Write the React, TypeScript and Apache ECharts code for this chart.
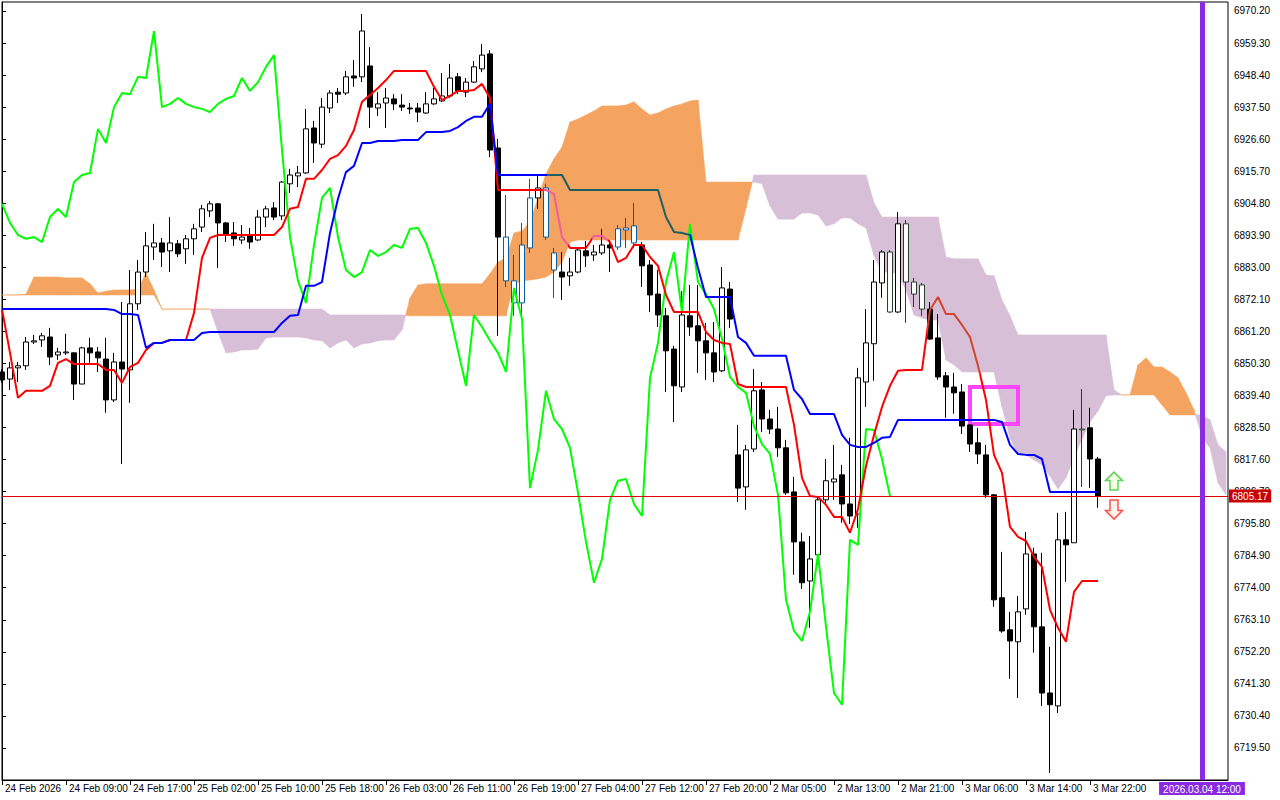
import React, { useEffect, useRef } from "react";
import * as echarts from "echarts";

// ---------- data ----------
const timeLabels = [
  "24 Feb 2026", "24 Feb 09:00", "24 Feb 17:00", "25 Feb 02:00", "25 Feb 10:00", "25 Feb 18:00",
  "26 Feb 03:00", "26 Feb 11:00", "26 Feb 19:00", "27 Feb 04:00", "27 Feb 12:00", "27 Feb 20:00",
  "2 Mar 05:00", "2 Mar 13:00", "2 Mar 21:00", "3 Mar 06:00", "3 Mar 14:00", "3 Mar 22:00",
];
const barsPerLabel = 8;

const yTickLabels = [
  6970.2, 6959.3, 6948.4, 6937.5, 6926.6, 6915.7, 6904.8, 6893.9, 6883.0, 6872.1, 6861.2, 6850.3,
  6839.4, 6828.5, 6817.6, 6806.7, 6795.8, 6784.9, 6774.0, 6763.1, 6752.2, 6741.3, 6730.4, 6719.5,
];
const yMin = 6708.6;
const yMax = 6973.26;

// [open, close, low, high]
const ohlc: number[][] = [
  [6847.4, 6844.7, 6843.7, 6848.4], [6845.0, 6848.8, 6841.3, 6850.8], [6848.8, 6849.5, 6844.0, 6850.8],
  [6849.5, 6857.6, 6848.1, 6859.3], [6857.6, 6858.0, 6856.9, 6860.0], [6858.3, 6859.7, 6855.9, 6860.7],
  [6859.3, 6852.5, 6849.8, 6862.4], [6853.2, 6854.2, 6851.5, 6855.6], [6853.9, 6854.2, 6853.2, 6860.4],
  [6853.9, 6843.3, 6837.9, 6854.0], [6843.3, 6855.6, 6843.3, 6856.0], [6855.6, 6853.9, 6850.5, 6859.0],
  [6854.2, 6852.2, 6847.4, 6855.9], [6851.8, 6837.9, 6833.5, 6859.0], [6837.9, 6850.8, 6837.2, 6853.9],
  [6850.8, 6848.4, 6816.1, 6871.2], [6848.1, 6870.6, 6836.9, 6882.1], [6870.6, 6881.4, 6868.5, 6885.5],
  [6881.4, 6890.3, 6879.7, 6895.0], [6889.9, 6891.3, 6885.5, 6897.8], [6891.3, 6888.2, 6883.1, 6893.0],
  [6888.6, 6891.3, 6881.4, 6900.1], [6891.0, 6887.6, 6886.5, 6892.3], [6889.3, 6892.7, 6884.2, 6894.0],
  [6892.7, 6896.1, 6887.2, 6897.8], [6896.7, 6902.9, 6895.0, 6904.2], [6902.2, 6904.6, 6900.1, 6905.6],
  [6904.6, 6898.1, 6882.8, 6904.9], [6898.1, 6894.0, 6891.6, 6898.4], [6894.7, 6892.7, 6890.3, 6898.4],
  [6892.3, 6893.3, 6891.0, 6897.4], [6893.7, 6891.6, 6889.3, 6896.4], [6892.3, 6900.1, 6892.0, 6902.5],
  [6900.1, 6902.9, 6896.7, 6903.9], [6903.2, 6900.1, 6899.1, 6905.2], [6900.5, 6912.0, 6899.1, 6912.4],
  [6911.4, 6914.4, 6908.3, 6916.5], [6914.1, 6915.1, 6910.3, 6917.5], [6915.1, 6930.1, 6914.8, 6936.9],
  [6930.4, 6925.3, 6918.5, 6932.8], [6924.9, 6937.5, 6923.6, 6940.6], [6937.2, 6942.3, 6935.5, 6943.3],
  [6942.6, 6941.9, 6938.9, 6944.0], [6942.3, 6947.8, 6941.6, 6949.8], [6948.1, 6947.4, 6944.4, 6953.5],
  [6947.8, 6963.4, 6946.0, 6969.2], [6951.5, 6937.5, 6930.4, 6957.9], [6937.2, 6938.6, 6934.5, 6942.6],
  [6938.9, 6940.6, 6930.4, 6944.0], [6940.3, 6938.6, 6936.5, 6941.9], [6938.2, 6937.5, 6936.2, 6941.9],
  [6937.2, 6936.9, 6935.2, 6938.9], [6937.2, 6935.8, 6932.4, 6938.9], [6935.5, 6938.6, 6935.2, 6942.6],
  [6938.6, 6940.3, 6938.3, 6944.0], [6939.6, 6941.3, 6939.3, 6949.1], [6941.3, 6947.4, 6940.6, 6952.2],
  [6947.8, 6943.0, 6941.9, 6949.1], [6942.6, 6946.0, 6940.9, 6947.4], [6946.0, 6951.2, 6945.7, 6953.2],
  [6950.5, 6955.2, 6949.4, 6959.0], [6955.6, 6922.9, 6920.5, 6956.9], [6923.6, 6893.3, 6859.7, 6926.7],
  [6893.3, 6878.4, 6876.3, 6907.6], [6878.4, 6870.9, 6866.5, 6887.2], [6870.9, 6890.6, 6866.5, 6898.1],
  [6889.6, 6906.6, 6887.9, 6913.1], [6906.6, 6910.0, 6902.9, 6914.1], [6910.0, 6893.3, 6892.3, 6911.4],
  [6887.9, 6882.1, 6872.6, 6889.6], [6881.4, 6879.7, 6871.9, 6888.2], [6880.1, 6881.4, 6876.7, 6886.2],
  [6881.4, 6888.9, 6881.0, 6889.5], [6888.6, 6886.9, 6883.1, 6892.0], [6887.2, 6888.2, 6885.2, 6890.6],
  [6887.9, 6890.6, 6887.2, 6896.1], [6890.6, 6889.6, 6881.4, 6892.3], [6889.9, 6896.1, 6888.9, 6897.4],
  [6895.7, 6896.4, 6889.6, 6899.8], [6897.1, 6891.3, 6889.6, 6904.9], [6890.6, 6883.5, 6876.3, 6891.6],
  [6883.8, 6873.6, 6867.8, 6885.5], [6873.9, 6866.8, 6862.7, 6882.1], [6866.5, 6854.6, 6840.6, 6869.2],
  [6855.2, 6842.7, 6830.4, 6856.3], [6842.3, 6866.8, 6840.6, 6874.9], [6866.5, 6862.7, 6859.7, 6877.0],
  [6863.1, 6858.0, 6847.1, 6877.0], [6858.0, 6853.9, 6844.7, 6864.1], [6853.9, 6847.4, 6844.0, 6864.4],
  [6847.8, 6876.0, 6847.4, 6883.1], [6875.6, 6865.4, 6862.4, 6878.0], [6819.2, 6807.9, 6803.2, 6829.4],
  [6808.3, 6820.9, 6800.5, 6822.6], [6821.2, 6841.0, 6820.2, 6848.4], [6841.3, 6831.4, 6827.0, 6844.0],
  [6831.4, 6828.0, 6826.3, 6834.5], [6828.0, 6821.6, 6818.5, 6835.5], [6821.6, 6806.3, 6805.6, 6824.3],
  [6806.6, 6789.6, 6778.4, 6811.7], [6789.6, 6775.7, 6773.6, 6792.7], [6776.3, 6783.8, 6760.4, 6791.6],
  [6785.2, 6803.9, 6781.8, 6804.6], [6803.9, 6810.4, 6802.5, 6817.8], [6810.0, 6811.0, 6803.9, 6822.6],
  [6812.4, 6802.5, 6796.1, 6815.8], [6802.5, 6798.4, 6795.7, 6825.0], [6799.1, 6845.4, 6794.4, 6848.8],
  [6844.0, 6857.3, 6835.5, 6868.8], [6857.0, 6878.0, 6844.4, 6885.5], [6877.7, 6888.2, 6872.6, 6888.9],
  [6888.2, 6867.8, 6867.5, 6888.9], [6867.8, 6897.8, 6867.5, 6901.8], [6897.8, 6878.0, 6864.1, 6899.1],
  [6878.0, 6873.9, 6869.5, 6879.4], [6877.0, 6868.8, 6866.5, 6877.7], [6868.8, 6858.6, 6858.3, 6871.2],
  [6859.0, 6845.7, 6844.7, 6867.1], [6846.1, 6842.3, 6831.8, 6847.4], [6842.3, 6840.3, 6833.2, 6847.1],
  [6840.6, 6829.0, 6826.3, 6843.3], [6829.4, 6822.9, 6820.2, 6829.5], [6823.3, 6819.5, 6816.1, 6828.4],
  [6819.2, 6805.6, 6804.6, 6822.6], [6805.6, 6769.9, 6767.5, 6805.8], [6770.6, 6759.3, 6758.7, 6786.2],
  [6759.7, 6755.9, 6743.0, 6765.8], [6755.6, 6765.8, 6736.5, 6771.2], [6766.8, 6785.5, 6764.8, 6793.0],
  [6785.5, 6760.7, 6751.9, 6787.6], [6760.7, 6738.2, 6733.8, 6785.9], [6738.2, 6734.2, 6711.0, 6753.9],
  [6733.8, 6790.3, 6731.4, 6799.5], [6790.3, 6788.6, 6776.0, 6799.8], [6789.3, 6828.0, 6789.3, 6834.5],
  [6828.0, 6827.7, 6808.3, 6841.6], [6828.4, 6817.8, 6808.0, 6835.2], [6817.8, 6805.17, 6801.2, 6818.5],
];

const tenkan = [
  6868.8, 6853.9, 6838.6, 6841.0, 6841.0, 6841.0, 6842.7, 6850.5, 6851.8, 6850.1,
  6850.1, 6850.1, 6850.1, 6848.1, 6848.1, 6843.7, 6849.1, 6850.5, 6854.9, 6857.3,
  6857.3, 6858.3, 6858.3, 6858.3, 6867.5, 6886.2, 6893.0, 6894.0, 6894.0, 6894.0,
  6894.0, 6894.0, 6894.0, 6894.0, 6894.0, 6896.7, 6902.9, 6903.5, 6913.1, 6913.1,
  6916.1, 6919.9, 6921.2, 6924.3, 6929.7, 6939.3, 6941.6, 6944.0, 6946.7, 6949.8,
  6949.8, 6949.8, 6949.8, 6949.8, 6944.4, 6939.9, 6941.3, 6943.0, 6943.0, 6943.3,
  6945.4, 6940.6, 6909.3, 6909.3, 6909.3, 6909.3, 6909.3, 6909.3, 6909.3, 6908.0,
  6893.3, 6889.6, 6889.6, 6889.6, 6893.7, 6893.7, 6891.6, 6884.8, 6886.2, 6890.6,
  6890.6, 6886.5, 6883.5, 6873.6, 6867.8, 6867.8, 6867.8, 6867.8, 6861.0, 6858.3,
  6857.3, 6856.9, 6843.3, 6842.3, 6842.3, 6842.3, 6842.3, 6842.3, 6842.3, 6829.4,
  6811.4, 6805.2, 6804.9, 6802.2, 6798.1, 6798.1, 6792.7, 6800.8, 6815.4, 6826.0,
  6835.5, 6842.7, 6847.8, 6848.1, 6848.1, 6848.1, 6868.5, 6872.9, 6867.1, 6867.1,
  6863.4, 6859.3, 6849.5, 6837.9, 6819.2, 6813.1, 6794.7, 6791.3, 6789.9, 6784.5,
  6781.1, 6766.5, 6760.4, 6755.6, 6772.6, 6776.3, 6776.3, 6776.3,
];

const kijun = [
  6868.8, 6868.8, 6868.8, 6868.8, 6868.8, 6868.8, 6868.8, 6868.8, 6868.8, 6868.8,
  6868.8, 6868.8, 6868.8, 6868.8, 6868.5, 6867.1, 6867.1, 6866.8, 6855.6, 6857.3,
  6857.3, 6858.3, 6858.3, 6858.3, 6858.3, 6860.7, 6861.0, 6861.0, 6861.0, 6861.0,
  6861.0, 6861.0, 6861.0, 6861.0, 6861.0, 6864.1, 6866.5, 6866.8, 6876.7, 6876.7,
  6878.0, 6894.7, 6906.3, 6915.4, 6917.5, 6925.3, 6925.3, 6926.0, 6926.0, 6926.0,
  6926.3, 6926.3, 6926.3, 6929.0, 6929.0, 6929.0, 6929.4, 6930.7, 6932.8, 6934.2,
  6934.2, 6938.6, 6914.4, 6914.4, 6914.4, 6914.4, 6914.4, 6914.4, 6914.4, 6914.4,
  6914.4, 6909.3, 6909.3, 6909.3, 6909.3, 6909.3, 6909.3, 6909.3, 6909.3, 6909.3,
  6909.3, 6909.3, 6909.3, 6900.1, 6895.0, 6894.7, 6894.0, 6882.8, 6872.9, 6872.9,
  6872.9, 6872.9, 6859.3, 6857.3, 6852.9, 6852.9, 6852.9, 6852.9, 6852.9, 6841.3,
  6838.2, 6833.1, 6833.1, 6833.1, 6833.1, 6826.0, 6822.6, 6821.9, 6821.9, 6823.3,
  6825.0, 6825.3, 6831.1, 6831.1, 6831.1, 6831.1, 6831.1, 6831.1, 6831.1, 6831.1,
  6831.1, 6831.1, 6831.1, 6831.1, 6831.1, 6830.4, 6822.6, 6819.5, 6819.2, 6819.2,
  6817.8, 6806.6, 6806.6, 6806.6, 6806.6, 6806.6, 6806.6, 6806.6,
];

const senkouA = [
  6873.6, 6873.6, 6873.6, 6873.9, 6879.7, 6879.7, 6879.7, 6879.7, 6879.4, 6879.4,
  6879.4, 6877.4, 6874.3, 6874.9, 6875.3, 6875.3, 6875.3, 6875.6, 6881.1, 6875.3,
  6868.8, 6868.8, 6868.8, 6868.8, 6868.8, 6868.8, 6868.8, 6861.0, 6853.9, 6854.2,
  6854.9, 6854.9, 6855.2, 6859.0, 6859.3, 6859.3, 6859.3, 6859.3, 6859.0, 6858.3,
  6858.0, 6855.6, 6857.3, 6858.3, 6855.6, 6856.9, 6857.3, 6858.0, 6858.3, 6858.3,
  6861.7, 6872.6, 6877.0, 6877.4, 6877.4, 6877.4, 6877.4, 6877.4, 6877.4, 6877.4,
  6877.4, 6880.8, 6884.8, 6886.2, 6894.7, 6895.4, 6898.4, 6906.6, 6914.8, 6919.9,
  6923.9, 6932.4, 6933.5, 6934.8, 6936.2, 6937.9, 6937.9, 6937.9, 6938.2, 6939.3,
  6936.9, 6934.8, 6935.5, 6936.9, 6937.9, 6938.6, 6939.6, 6939.9, 6912.0, 6912.0,
  6912.0, 6912.0, 6912.0, 6912.0, 6912.0, 6911.4, 6903.9, 6899.4, 6899.4, 6899.4,
  6901.5, 6901.5, 6900.8, 6897.1, 6897.8, 6899.8, 6899.8, 6897.8, 6896.4, 6886.9,
  6881.4, 6881.4, 6880.8, 6875.3, 6866.8, 6865.8, 6865.1, 6865.1, 6851.5, 6849.8,
  6847.4, 6847.4, 6847.4, 6847.4, 6847.4, 6835.5, 6825.0, 6819.2, 6819.2, 6817.5,
  6815.8, 6812.0, 6807.6, 6811.4, 6818.5, 6824.6, 6830.4, 6834.1, 6839.3, 6839.6,
  6839.6, 6839.6, 6849.8, 6852.2, 6849.1, 6849.1, 6847.4, 6845.4, 6840.3, 6834.5,
  6825.3, 6821.6, 6809.7, 6805.6,
];

const senkouB = [
  6873.6, 6873.6, 6873.6, 6873.6, 6873.6, 6873.6, 6873.6, 6873.6, 6873.6, 6873.6,
  6873.6, 6873.6, 6873.6, 6873.6, 6873.6, 6873.6, 6873.6, 6873.6, 6873.6, 6873.6,
  6868.8, 6868.8, 6868.8, 6868.8, 6868.8, 6868.8, 6868.8, 6868.8, 6868.8, 6868.8,
  6868.8, 6868.8, 6868.8, 6868.8, 6868.8, 6868.8, 6868.8, 6868.8, 6868.8, 6868.8,
  6868.8, 6866.8, 6866.8, 6866.8, 6866.8, 6866.8, 6866.8, 6866.8, 6866.8, 6866.8,
  6866.8, 6866.5, 6866.5, 6866.5, 6866.5, 6866.5, 6866.5, 6866.5, 6866.5, 6866.5,
  6866.5, 6866.5, 6866.5, 6866.5, 6877.4, 6878.4, 6878.7, 6879.1, 6879.7, 6881.4,
  6884.8, 6891.6, 6892.3, 6892.3, 6892.3, 6892.3, 6892.3, 6892.3, 6892.3, 6892.3,
  6892.3, 6892.3, 6892.3, 6892.3, 6892.3, 6892.3, 6892.3, 6892.3, 6892.3, 6892.3,
  6892.3, 6892.3, 6892.3, 6903.2, 6914.4, 6914.4, 6914.4, 6914.4, 6914.4, 6914.4,
  6914.4, 6914.4, 6914.4, 6914.4, 6914.4, 6914.4, 6914.4, 6914.4, 6914.4, 6904.9,
  6900.1, 6900.1, 6900.1, 6900.1, 6900.1, 6900.1, 6900.1, 6900.1, 6886.5, 6885.9,
  6885.9, 6885.9, 6885.9, 6880.4, 6880.1, 6871.9, 6866.5, 6860.0, 6860.0, 6860.0,
  6860.0, 6860.0, 6860.0, 6860.0, 6860.0, 6860.0, 6860.0, 6860.0, 6860.0, 6841.3,
  6839.6, 6839.6, 6839.6, 6839.6, 6839.6, 6836.2, 6832.8, 6832.8, 6832.8, 6832.8,
  6832.8, 6831.1, 6822.6, 6820.2,
];

const chikouShift = 26;
const lastPrice = 6805.17;
const eventBar = 150;
const eventLabel = "2026.03.04 12:00";
const boxCorners = [121, 6842.3, 127, 6829.7];
const arrowBar = 139;
const orangeCloudBars = [63, 64, 65, 66, 68, 69, 77, 78, 79];
const purpleCloudBars = [111, 113, 114, 115, 135];
const xMax = 153.25;

const FONT = '"Liberation Sans", Arial, sans-serif';
const BULL_CLOUD = "#f4a460";
const BEAR_CLOUD = "#d8bfd8";

export default function App() {
  const ref = useRef<HTMLDivElement>(null);

  useEffect(() => {
    const chart = echarts.init(ref.current as HTMLDivElement, null, { renderer: "svg" });

    const blue = "#0b5b9f";
    const dkgreen = "#27402a";
    const candleData = ohlc.map((d, i) => {
      const item: any = { value: [i, d[0], d[1], d[2], d[3]] };
      if (orangeCloudBars.includes(i)) {
        item.itemStyle = { color: "#ffffff", color0: blue, borderColor: blue, borderColor0: blue, borderColorDoji: blue };
      } else if (purpleCloudBars.includes(i)) {
        item.itemStyle = { color: "#ffffff", color0: dkgreen, borderColor: dkgreen, borderColor0: dkgreen, borderColorDoji: dkgreen };
      }
      return item;
    });

    const closes = ohlc.map((d) => d[1]);
    const chikou = closes.slice(chikouShift).map((c, j) => [j, c]);

    // cloud segments: [j, A_j, B_j, A_j+1, B_j+1]
    const cloudSegs = senkouA.slice(0, -1).map((a, j) => [j, a, senkouB[j], senkouA[j + 1], senkouB[j + 1]]);

    const labelTicks = timeLabels.map((_, i) => i * barsPerLabel);

    const option: any = {
      animation: false,
      backgroundColor: "#ffffff",
      textStyle: { fontFamily: FONT },
      grid: {
        left: 2, right: 52, top: 2, bottom: 20,
        show: true, borderColor: "#000", borderWidth: 1,
      },
      xAxis: {
        type: "value",
        min: 0,
        max: xMax,
        axisLine: { show: true, lineStyle: { color: "#000", width: 1 } },
        axisTick: { show: true, customValues: labelTicks, length: 5, lineStyle: { color: "#000" } },
        axisLabel: {
          customValues: labelTicks,
          formatter: (v: number) => timeLabels[Math.round(v / barsPerLabel)] ?? "",
          align: "left",
          padding: [0, 0, 0, 3],
          margin: 3,
          color: "#000",
          fontSize: 10,
          fontFamily: FONT,
        },
        splitLine: { show: false },
      },
      yAxis: {
        type: "value",
        position: "right",
        min: yMin,
        max: yMax,
        axisLine: { show: true, lineStyle: { color: "#000", width: 1 } },
        axisTick: { show: true, customValues: yTickLabels, length: 4, lineStyle: { color: "#000" } },
        axisLabel: {
          customValues: yTickLabels,
          formatter: (v: number) => v.toFixed(2),
          margin: 6,
          color: "#000",
          fontSize: 10,
          fontFamily: FONT,
        },
        splitLine: { show: false },
      },
      visualMap: [
        {
          type: "piecewise", show: false, seriesIndex: 3, dimension: 0,
          pieces: [
            { lt: 67.6, color: "#ff0000" },
            { gte: 67.6, lt: 70.8, color: "#ee5fa0" },
            { gte: 70.8, lt: 73.7, color: "#ff0000" },
            { gte: 73.7, lt: 75.8, color: "#ee5fa0" },
            { gte: 75.8, lt: 115.6, color: "#ff0000" },
            { gte: 115.6, lt: 122.3, color: "#d2452d" },
            { gte: 122.3, color: "#ff0000" },
          ],
        },
        {
          type: "piecewise", show: false, seriesIndex: 4, dimension: 0,
          pieces: [
            { lt: 68.1, color: "#0000ff" },
            { gte: 68.1, lt: 86, color: "#1f5f62" },
            { gte: 86, color: "#0000ff" },
          ],
        },
      ],
      series: [
        {
          name: "cloud", type: "custom", silent: true, clip: true,
          data: cloudSegs,
          encode: { x: 0, y: [1, 2, 3, 4] },
          renderItem: (params: any, api: any) => {
            const j = api.value(0);
            const a0 = api.value(1), b0 = api.value(2), a1 = api.value(3), b1 = api.value(4);
            const pA0 = api.coord([j, a0]);
            const pB0 = api.coord([j, b0]);
            const pA1 = api.coord([j + 1, a1]);
            const pB1 = api.coord([j + 1, b1]);
            const d0 = a0 - b0;
            const d1 = a1 - b1;
            const col = (d: number) => (d >= 0 ? BULL_CLOUD : BEAR_CLOUD);
            const poly = (pts: number[][], c: string) => ({
              type: "polygon",
              shape: { points: pts },
              style: { fill: c, stroke: c, lineWidth: 0.6 },
            });
            if (Math.abs(d0) < 1e-9 && Math.abs(d1) < 1e-9) {
              return {
                type: "line",
                shape: { x1: pA0[0], y1: pA0[1], x2: pA1[0], y2: pA1[1] },
                style: { stroke: BULL_CLOUD, lineWidth: 1 },
              };
            }
            if (d0 * d1 >= 0) {
              const c = col(d0 + d1);
              return poly([pA0, pA1, pB1, pB0], c);
            }
            const t = d0 / (d0 - d1);
            const X = [pA0[0] + t * (pA1[0] - pA0[0]), pA0[1] + t * (pA1[1] - pA0[1])];
            return {
              type: "group",
              children: [poly([pA0, X, pB0], col(d0)), poly([X, pA1, pB1], col(d1))],
            };
          },
        },
        {
          name: "price", type: "candlestick", data: candleData,
          encode: { x: 0, y: [1, 2, 3, 4] },
          barWidth: 5,
          itemStyle: {
            color: "#ffffff", color0: "#000000", borderColor: "#000000", borderColor0: "#000000",
            borderColorDoji: "#000000", borderWidth: 1,
          },
          silent: true,
        },
        {
          name: "chikou", type: "line", data: chikou, showSymbol: false,
          lineStyle: { color: "#00ff00", width: 2 }, silent: true,
        },
        {
          name: "tenkan", type: "line", data: tenkan.map((v, i) => [i, v]), showSymbol: false,
          lineStyle: { width: 2 }, silent: true,
        },
        {
          name: "kijun", type: "line", data: kijun.map((v, i) => [i, v]), showSymbol: false,
          lineStyle: { width: 2 }, silent: true,
        },
        {
          name: "box", type: "custom", silent: true,
          data: [boxCorners],
          encode: { x: [0, 2], y: [1, 3] },
          renderItem: (params: any, api: any) => {
            const p1 = api.coord([api.value(0), api.value(1)]);
            const p2 = api.coord([api.value(2), api.value(3)]);
            return {
              type: "rect",
              shape: { x: p1[0], y: p1[1], width: p2[0] - p1[0], height: p2[1] - p1[1] },
              style: { fill: "none", stroke: "#ff44ff", lineWidth: 4 },
            };
          },
          markLine: {
            silent: true,
            symbol: ["none", "none"],
            data: [
              {
                yAxis: lastPrice,
                lineStyle: { color: "#e00000", width: 1, type: "solid" },
                label: {
                  show: true, position: "end", distance: 1,
                  formatter: lastPrice.toFixed(2),
                  color: "#ffffff", backgroundColor: "#c80000",
                  padding: [2, 3, 1, 3], fontSize: 10, fontFamily: FONT,
                },
              },
              {
                xAxis: eventBar,
                lineStyle: { color: "#8a2be2", width: 5, type: "solid" },
                label: {
                  show: true, position: "start", distance: 2,
                  formatter: eventLabel,
                  color: "#ffffff", backgroundColor: "#8a2be2",
                  padding: [2, 4, 1, 4], fontSize: 10, fontFamily: FONT,
                },
              },
            ],
          },
        },
        {
          name: "arrows", type: "custom", silent: true,
          data: [[arrowBar, lastPrice]],
          renderItem: (params: any, api: any) => {
            const c = api.coord([api.value(0), api.value(1)]);
            const x = c[0];
            const y = c[1];
            const up = [[0, -24], [8.5, -15.5], [4, -15.5], [4, -6], [-4, -6], [-4, -15.5], [-8.5, -15.5]]
              .map((p) => [x + p[0], y + p[1]]);
            const down = [[0, 23], [8.5, 14.5], [4, 14.5], [4, 4], [-4, 4], [-4, 14.5], [-8.5, 14.5]]
              .map((p) => [x + p[0], y + p[1]]);
            return {
              type: "group",
              children: [
                { type: "polygon", shape: { points: up }, style: { fill: "#f4ffe0", stroke: "#5fd35f", lineWidth: 1.5 } },
                { type: "polygon", shape: { points: down }, style: { fill: "#fff4e8", stroke: "#ff5050", lineWidth: 1.5 } },
              ],
            };
          },
        },
      ],
    };

    chart.setOption(option);
    return () => chart.dispose();
  }, []);

  return (
    <div
      ref={ref}
      style={{ position: "absolute", left: 0, top: 0, width: 1280, height: 800, background: "#fff" }}
    />
  );
}
